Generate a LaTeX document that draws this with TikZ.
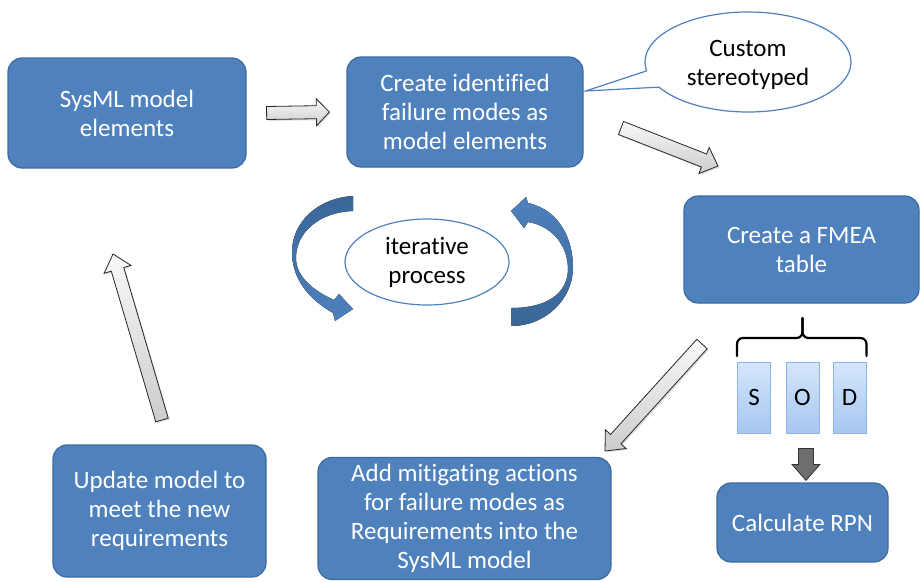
\documentclass[tikz,border=0pt]{standalone}
\usepackage{fontspec}
\setmainfont[Ligatures=NoCommon]{Carlito}
\usetikzlibrary{calc,shapes.geometric,shapes.callouts,shadows}
\definecolor{boxblue}{HTML}{4F81BD}
\definecolor{boxedge}{HTML}{3C6A9E}
\definecolor{darkband}{HTML}{3A6596}
\definecolor{sodtop}{HTML}{D5E6FB}
\definecolor{sodbot}{HTML}{A6C6F1}
\definecolor{sodedge}{HTML}{8DB3E2}
\definecolor{darkarrow}{HTML}{6E6E6E}
\newcommand\blockarrow[6]{%
  \path ($(#3)!#6!(#2)$) coordinate (hb);
  \draw[#1] ($(#2)!#4!90:(#3)$) -- ($(hb)!#4!90:(#3)$) -- ($(hb)!#5!90:(#3)$) -- (#3)
    -- ($(hb)!#5!-90:(#3)$) -- ($(hb)!#4!-90:(#3)$) -- ($(#2)!#4!-90:(#3)$) -- cycle;
}
\tikzset{
  bigfont/.style={font=\fontsize{25}{29}\selectfont},
  procbox/.style={draw=boxedge, fill=boxblue, line width=1.2pt, rounded corners=14pt,
    text=white, align=center, inner sep=0pt, bigfont},
  sodbox/.style={draw=sodedge, top color=sodtop, bottom color=sodbot, line width=1pt,
    minimum width=33pt, minimum height=71pt, inner sep=0pt, bigfont},
  grayarrow/.style={draw=gray!30!black, line width=0.8pt, top color=gray!5, bottom color=gray!40,
    drop shadow={opacity=0.25, shadow xshift=1.5pt, shadow yshift=-1.5pt}},
  darkblockarrow/.style={draw=gray!40!black, line width=0.8pt, fill=darkarrow},
  bracestyle/.style={line width=2.2pt, line cap=round, rounded corners=6pt},
}
\begin{document}
\begin{tikzpicture}[x=1pt,y=-1pt]
\useasboundingbox (0,0) rectangle (920,581);

% process boxes
\node (sysml) [procbox, minimum width=238pt, minimum height=110pt] at (127,113) {SysML model\\elements};
\node (create) [procbox, minimum width=236pt, minimum height=110pt] at (465,112) {Create identified\\failure modes as\\model elements};
\node (fmea) [procbox, minimum width=235pt, minimum height=107pt] at (801.5,249.5) {Create a FMEA\\table};
\node (rpn) [procbox, minimum width=171pt, minimum height=79pt] at (802.5,522.5) {Calculate RPN};
\node (mitig) [procbox, minimum width=293pt, minimum height=122pt] at (464.5,518.5) {Add mitigating actions\\for failure modes as\\Requirements into the\\SysML model};
\node (update) [procbox, minimum width=213pt, minimum height=132pt] at (159.5,511) {Update model to\\meet the new\\requirements};

% callout
\node (callout) [ellipse callout, draw=boxblue, line width=1.2pt, fill=white,
  minimum width=206pt, minimum height=100pt, inner sep=0pt,
  callout absolute pointer={($(create.east)+(2,-21)$)}, callout pointer arc=20,
  bigfont] at (748,62) {\raisebox{-3pt}[\height][\depth]{\begin{tabular}{@{}c@{}}Custom\\stereotyped\end{tabular}}};

% iterative ellipse
\node (iter) [ellipse, draw=boxblue, line width=1.2pt, minimum width=164pt, minimum height=86pt,
  inner sep=0pt, align=center, bigfont] at (427,262) {iterative\\process};

% S O D
\node (s) [sodbox] at (754,397.5) {S};
\node (o) [sodbox] at (802.5,397.5) {O};
\node (d) [sodbox] at (849.5,397.5) {D};

% brace
\draw[bracestyle] (s.north west |- 0,356) |- (o.north |- 0,338) -- (o.north |- 0,318);
\draw[bracestyle] (d.north east |- 0,356) |- (o.north |- 0,338) -- (o.north |- 0,318);

% block arrows
\coordinate (a1s) at ($(sysml.east)+(20,0)$);
\coordinate (a1e) at ($(create.west)+(-17,0)$);
\blockarrow{grayarrow}{a1s}{a1e}{6.5pt}{13.5pt}{13pt}
\coordinate (a2s) at (621,128);
\coordinate (a2e) at (718,166);
\blockarrow{grayarrow}{a2s}{a2e}{7pt}{14pt}{15pt}
\coordinate (a3s) at (702,344);
\coordinate (a3e) at (605,451);
\blockarrow{grayarrow}{a3s}{a3e}{7pt}{14pt}{16pt}
\coordinate (a4s) at (162,420);
\coordinate (a4e) at (113,254);
\blockarrow{grayarrow}{a4s}{a4e}{6.5pt}{14pt}{16pt}
\coordinate (a5s) at ($(o.south)+(3.5,15)$);
\coordinate (a5e) at ($(rpn.north)+(3.5,-2)$);
\blockarrow{darkblockarrow}{a5s}{a5e}{7.5pt}{14pt}{16pt}

% curved arrows around the iterative process
\fill[top color=darkband, bottom color=boxblue]
  (353,196) .. controls (318,198) and (292,222) .. (292,252)
  .. controls (292,280) and (310,300) .. (333,313)
  -- (335,321) -- (353,309) -- (339,294) -- (334,300)
  .. controls (312,290) and (296,276) .. (296,258)
  .. controls (296,232) and (320,212) .. (353,211) -- cycle;
\fill[top color=boxblue, bottom color=darkband]
  (511,326) .. controls (545,326) and (573,300) .. (573,267)
  .. controls (573,240) and (560,210) .. (528,203)
  -- (526,197) -- (511,211) -- (524,228) -- (528,222)
  .. controls (552,226) and (568,245) .. (568,270)
  .. controls (567,295) and (545,308) .. (511,308) -- cycle;
\end{tikzpicture}
\end{document}
